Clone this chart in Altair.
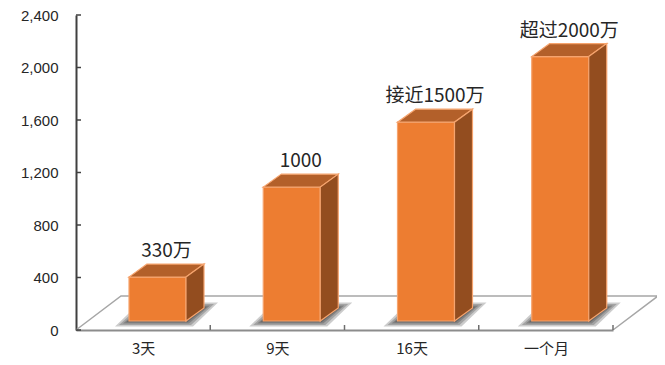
import json
import altair as alt
import pandas as pd

# ---- data ----
categories = ["3天", "9天", "16天", "一个月"]
values = [335, 1020, 1515, 2015]
value_labels = ["330万", "1000", "接近1500万", "超过2000万"]
y_ticks = [0, 400, 800, 1200, 1600, 2000, 2400]

# ---- geometry (pixels -> data units) ----
W, H = 537, 315
N = len(categories)
Y_MAX = 2400
SX = W / N
SY = H / Y_MAX


def px_x(p):
    return p / SX


def px_y(p):
    return p / SY


L = px_x(53)       # category start -> front face left
BW = px_x(57)      # front face width
OFF_Y = px_y(9)    # bar bottom above the front edge
DX, DY = px_x(18), px_y(13)      # bar depth
DXF, DYF = px_x(45), px_y(34)    # floor depth

FRONT, TOP, SIDE, EDGE = "#ED7D31", "#B3602A", "#934D1F", "#F6A46E"

xs = alt.Scale(domain=[0, N], nice=False, zero=False)
ys = alt.Scale(domain=[0, Y_MAX], nice=False, zero=False)

front_rows, top_rows, side_rows, shadow_rows, label_rows = [], [], [], [], []
for i, (c, v, lab) in enumerate(zip(categories, values, value_labels)):
    xl = i + L
    xr = xl + BW
    top = v + OFF_Y
    front_rows.append({"bar": c, "x": xl, "x2": xr, "y": OFF_Y, "y2": top})
    top_rows += [
        {"bar": c, "y": top, "x": xl, "x2": xr},
        {"bar": c, "y": top + DY, "x": xl + DX, "x2": xr + DX},
    ]
    side_rows += [
        {"bar": c, "x": xr, "y": OFF_Y, "y2": top},
        {"bar": c, "x": xr + DX, "y": OFF_Y + DY, "y2": top + DY},
    ]
    for k, e in enumerate([14, 10, 6, 3]):
        ex, ey = px_x(e), px_y(e * 0.4)
        shadow_rows += [
            {"bar": f"{c}-{k}", "y": OFF_Y - ey, "x": xl - ex, "x2": xr + ex * 0.5},
            {"bar": f"{c}-{k}", "y": OFF_Y + DY + ey, "x": xl + DX - ex * 0.5, "x2": xr + DX + ex},
        ]
    label_rows.append({"x": xl + BW / 2 + DX / 2, "y": top + DY, "text": lab})

front_df = pd.DataFrame(front_rows)
top_df = pd.DataFrame(top_rows)
side_df = pd.DataFrame(side_rows)
shadow_df = pd.DataFrame(shadow_rows)
label_df = pd.DataFrame(label_rows)

floor_df = pd.DataFrame([
    {"o": 0, "x": 0, "y": 0},
    {"o": 1, "x": DXF, "y": DYF},
    {"o": 2, "x": N + DXF, "y": DYF},
    {"o": 3, "x": N, "y": 0},
])

ytick_df = pd.DataFrame({"y": y_ticks, "x": 0.0, "x2": px_x(5)})
xtick_df = pd.DataFrame({"x": list(range(1, N + 1)), "y": 0.0, "y2": px_y(5)})

label_expr = json.dumps(categories, ensure_ascii=False) + "[floor(datum.value)]"

floor = alt.Chart(floor_df).mark_line(color="#A6A6A6", strokeWidth=1.5).encode(
    x=alt.X("x:Q", scale=xs, title=None,
            axis=alt.Axis(values=[i + 0.5 for i in range(N)], labelExpr=label_expr)),
    y=alt.Y("y:Q", scale=ys, title=None,
            axis=alt.Axis(values=y_ticks, format=",.0f")),
    order="o:O",
)

shadow = alt.Chart(shadow_df).mark_area(orient="horizontal", color="#000000", opacity=0.2).encode(
    y=alt.Y("y:Q", scale=ys), x=alt.X("x:Q", scale=xs), x2="x2:Q", detail="bar:N"
)

front = alt.Chart(front_df).mark_rect(color=FRONT, stroke=EDGE, strokeWidth=1.2).encode(
    x=alt.X("x:Q", scale=xs), x2="x2:Q", y=alt.Y("y:Q", scale=ys), y2="y2:Q"
)

topf = alt.Chart(top_df).mark_area(orient="horizontal", color=TOP, stroke=EDGE, strokeWidth=1.2).encode(
    y=alt.Y("y:Q", scale=ys), x=alt.X("x:Q", scale=xs), x2="x2:Q", detail="bar:N"
)

side = alt.Chart(side_df).mark_area(orient="vertical", color=SIDE, stroke=EDGE, strokeWidth=1.2).encode(
    x=alt.X("x:Q", scale=xs), y=alt.Y("y:Q", scale=ys), y2="y2:Q", detail="bar:N"
)

yticks = alt.Chart(ytick_df).mark_rule(color="#404040", strokeWidth=1.5).encode(
    x=alt.X("x:Q", scale=xs), x2="x2:Q", y=alt.Y("y:Q", scale=ys)
)
xticks = alt.Chart(xtick_df).mark_rule(color="#6E6E6E", strokeWidth=1.5).encode(
    x=alt.X("x:Q", scale=xs), y=alt.Y("y:Q", scale=ys), y2="y2:Q"
)

labels = alt.Chart(label_df).mark_text(
    font="Noto Sans CJK SC", fontSize=19, color="#262626", baseline="alphabetic", dy=-7
).encode(x=alt.X("x:Q", scale=xs), y=alt.Y("y:Q", scale=ys), text="text:N")

chart = alt.layer(floor, shadow, front, topf, side, xticks, yticks, labels).properties(
    width=W, height=H,
    autosize=alt.AutoSizeParams(type="none"),
    padding={"left": 68, "top": 7, "right": 44, "bottom": 27},
).configure_view(stroke=None).configure_axisX(
    domainColor="#8C8C8C", domainWidth=2, ticks=False, tickSize=0, grid=False,
    labelFont="Noto Sans CJK SC", labelFontSize=15, labelColor="#262626", labelPadding=11,
).configure_axisY(
    domainColor="#404040", domainWidth=2, ticks=False, tickSize=0, grid=False,
    labelFont="Liberation Sans", labelFontSize=15, labelColor="#262626", labelPadding=18,
)

chart.save("out.html", embed_options={"renderer": "svg", "actions": False})
